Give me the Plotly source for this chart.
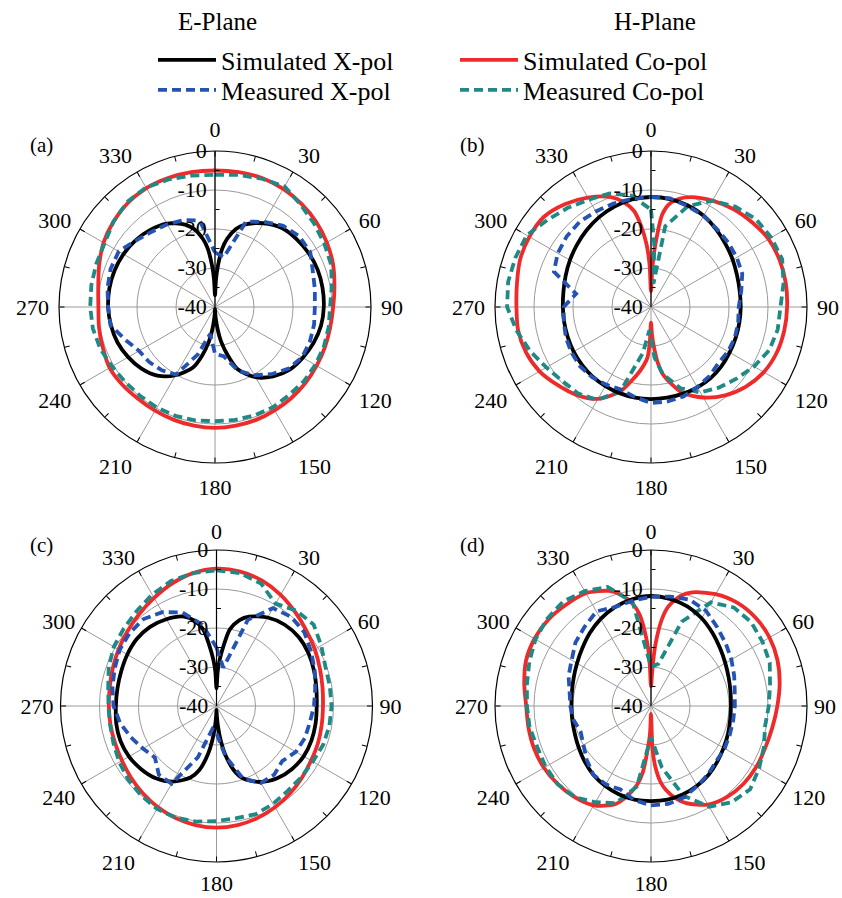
import plotly.graph_objects as go

# ---------------- data (dB vs angle in degrees) ----------------
SIM_T = [0, 2, 4, 7, 10, 15, 20, 30, 40, 50, 60, 70, 80, 90, 100, 110, 120, 130, 140, 150,
         160, 165, 170, 173, 176, 178, 180, 182, 184, 187, 190, 195, 200,
         210, 220, 230, 240, 250, 260, 270, 280, 290, 300, 310, 320, 330, 340,
         345, 350, 353, 356, 358, 360]
T10 = [0, 10, 20, 30, 40, 50, 60, 70, 80, 90, 100, 110, 120, 130, 140, 150, 160, 170, 180,
       190, 200, 210, 220, 230, 240, 250, 260, 270, 280, 290, 300, 310, 320, 330, 340, 350, 360]
B_MEAS_CO_T = [0, 3, 6, 10, 20, 30, 40, 50, 60, 70, 80, 90, 100, 110, 120, 130, 140, 150, 160, 170,
               176, 184, 190, 200, 210, 220, 230, 240, 250, 260, 270, 280, 290, 300, 310, 320, 330,
               340, 350, 360]

# (a) E-plane
A_SIM_X = [-37, -33, -29.5, -25, -22.3, -19.3, -17.5, -15.2, -13.5, -12.8, -12.3, -12.0, -12.0, -12.1,
           -12.4, -13.1, -14.0, -15.0, -16.8, -19.2, -23, -27, -31, -34, -37, -38.5, -39.5,
           -38.5, -37, -34, -31, -27, -23.5, -19.8, -17.0, -15.4, -14.3, -13.4, -12.9, -12.6,
           -12.5, -12.6, -12.9, -13.4, -14.2, -15.3, -17.5, -19.3, -22.3, -25, -29.5, -33, -37]
A_SIM_CO = [-5.0, -4.9, -4.8, -5.0, -5.5, -6.1, -6.9, -7.8, -8.9, -9.7, -10.0, -10.0, -9.9, -9.7,
            -9.5, -9.4, -9.2, -9.1, -9.0, -9.1, -9.2, -9.3, -9.3, -9.0, -8.8, -9.4, -9.8, -10.1,
            -9.6, -8.4, -7.0, -6.0, -5.2, -4.8, -4.8, -4.9, -5.0]
A_MEAS_X = [-26, -27, -16.7, -14.8, -12.8, -11.8, -11.8, -13.3, -14.0, -14.4, -14.2, -14.1, -14.2,
            -15.4, -17.5, -19.8, -22.6, -27.2, -28, -33, -27, -20, -18.8, -18.0, -17.5, -15.5,
            -12.8, -12.6, -12.0, -11.5, -11.5, -13.5, -14.8, -15.5, -16.3, -17.5, -26]
A_MEAS_CO = [-6.1, -5.6, -5.0, -4.3, -5.8, -6.8, -7.6, -8.3, -9.6, -10.5, -10.4, -10.3, -10.3, -10.3,
             -10.5, -10.3, -10.4, -10.6, -10.7, -10.5, -10.3, -10.2, -10.2, -10.0, -9.5, -8.7,
             -8.2, -8.0, -7.8, -7.6, -7.3, -6.0, -4.9, -4.6, -5.2, -5.8, -6.1]

# (b) H-plane
B_SIM_X = [-11.8, -11.9, -12.3, -13.0, -14.0, -15.0, -15.8, -16.5, -16.9, -17.0, -17.0, -16.9, -16.7,
           -16.4, -16.2, -16.2, -16.3, -16.4, -16.4, -16.4, -16.5, -16.6, -16.7, -16.9, -17.1,
           -17.3, -17.4, -17.4, -17.2, -16.7, -16.0, -15.2, -14.3, -13.4, -12.6, -12.0, -11.8]
B_SIM_CO = [-36, -30, -24, -16, -13.2, -11.2, -10.0, -8.5, -7.2, -6.2, -5.2, -4.9, -4.9, -5.1, -5.3,
            -5.7, -6.6, -8.2, -10.4, -13.2, -16.6, -19.5, -22.5, -25.5, -30, -33, -36,
            -31, -27, -25, -23.2, -20.3, -17, -12.8, -10.5, -8.8, -7.0, -5.9, -5.4, -5.5, -5.1,
            -4.3, -4.0, -4.1, -5.6, -7.6, -10.0, -12.0, -15.0, -19, -24, -29, -36]
B_MEAS_X = [-11.8, -11.7, -12.5, -13.0, -13.8, -14.2, -14.6, -15.1, -16.5, -17.5, -17.3, -17.1, -17.2,
            -17.5, -16.8, -16.3, -15.6, -15.4, -15.4, -16.5, -17.5, -17.0, -16.5, -16.3, -16.5,
            -16.8, -17.3, -17.6, -20.5, -13.5, -12.4, -11.8, -11.5, -11.7, -11.8, -11.8, -11.8]
B_MEAS_CO = [-15, -24, -34, -19, -12.5, -8.5, -6.4, -4.9, -4.4, -4.2, -5.5, -6.8, -7.0, -7.7, -9.5,
             -11.4, -13.0, -14.7, -17.8, -22.5, -27, -34, -28, -17, -12.5, -11.0, -10.4, -9.0,
             -7.0, -5.0, -3.1, -2.8, -3.0, -3.2, -5.3, -6.8, -8.2, -9.0, -11.0, -15]

# (c) E-plane
C_SIM_X = [-35.5, -31, -28, -24, -20, -17.2, -15.6, -13.8, -12.8, -12.5, -12.8, -13.4, -14.0, -14.3,
           -14.2, -14.1, -14.2, -14.8, -15.8, -17.5, -20.3, -23, -27.5, -31, -35, -37.5, -39,
           -37.5, -35, -31, -27.5, -23, -20.5, -17.6, -15.8, -14.8, -14.1, -13.8, -13.9, -14.2,
           -14.2, -14.0, -13.6, -13.3, -13.5, -14.3, -15.6, -17.2, -20, -24, -28, -31, -35.5]
C_SIM_CO = [-4.8, -5.0, -5.8, -7.1, -8.6, -9.9, -10.9, -11.8, -12.4, -12.7, -12.6, -12.3, -12.0,
            -11.4, -10.7, -10.0, -9.4, -9.0, -8.8, -9.0, -9.4, -10.0, -10.7, -11.4, -12.0, -12.3,
            -12.4, -12.4, -12.2, -11.7, -11.0, -10.2, -9.2, -8.0, -6.6, -5.4, -4.8]
C_MEAS_X = [-25, -30, -16.5, -11.0, -10.2, -10.6, -12.0, -13.2, -14.3, -15.0, -15.7, -15.9, -16.5,
            -18.0, -17.0, -17.2, -20.2, -27, -33, -34, -26, -17.0, -17.0, -19.4, -18.2, -16.6,
            -14.9, -13.6, -12.9, -12.2, -11.3, -10.9, -10.9, -12.2, -14.5, -18.8, -25]
C_MEAS_CO = [-5.2, -5.4, -6.6, -9.7, -8.1, -7.5, -9.0, -10.3, -10.5, -10.5, -10.6, -10.9, -11.5,
             -11.6, -11.6, -11.0, -10.5, -10.8, -10.5, -9.9, -9.5, -9.5, -10.0, -10.5, -11.2,
             -11.9, -12.3, -12.3, -11.8, -10.6, -9.6, -9.0, -8.2, -7.0, -5.9, -5.4, -5.2]

# (d) H-plane
D_SIM_X = [-11.8, -12.1, -12.8, -14.0, -15.5, -16.9, -18.0, -18.8, -19.3, -19.5, -19.4, -19.0, -18.5,
           -17.8, -17.0, -16.4, -15.9, -15.6, -15.6, -15.6, -15.9, -16.4, -17.0, -17.8, -18.6,
           -19.2, -19.5, -19.6, -19.4, -18.9, -18.1, -17.0, -15.6, -14.2, -13.0, -12.2, -11.8]
D_SIM_CO = [-35, -31, -24.5, -17.8, -14, -10.8, -9.0, -6.9, -5.5, -4.9, -4.9, -5.5, -6.5, -7.6, -8.4,
            -8.8, -8.8, -9.0, -9.6, -10.8, -13.5, -15.5, -18.2, -20.5, -24.5, -29, -38,
            -33, -29.5, -23, -19.5, -16, -13.2, -10.6, -9.5, -8.8, -8.3, -8.1, -8.1, -8.0, -7.0,
            -5.9, -5.5, -5.6, -6.1, -6.6, -8.6, -10.5, -13.5, -16.5, -22.5, -27.5, -35]
D_MEAS_X = [-12.0, -11.5, -11.0, -11.8, -13.6, -15.0, -16.2, -17.3, -18.2, -18.5, -18.6, -18.5, -18.2,
            -18.1, -17.2, -16.3, -15.1, -14.5, -14.5, -15.5, -17.2, -16.8, -17.0, -18.5, -20.0,
            -20.8, -19.8, -19.3, -18.8, -17.5, -16.5, -14.7, -13.5, -12.0, -13.0, -12.6, -12.0]
D_MEAS_CO = [-30, -29, -17, -9.3, -7.0, -6.5, -7.0, -7.6, -9.0, -9.8, -10.3, -9.2, -8.0, -6.8, -7.8,
             -10.2, -15.5, -24, -32, -19, -13.5, -11.5, -9.5, -8.8, -8.8, -9.0, -8.4, -8.2, -7.7,
             -6.8, -5.8, -5.2, -5.0, -6.0, -7.5, -13, -30]

R_TICKS = [-40, -30, -20, -10, 0]
R_TICK_TEXT = ["-40", "-30", "-20", "-10", "0"]
R_MINOR = [-35, -25, -15, -5]
ANG_TICKS = [0, 30, 60, 90, 120, 150, 180, 210, 240, 270, 300, 330]
MINOR_TICKS = list(range(0, 360, 15))
PANEL_LABELS = ["(a)", "(b)", "(c)", "(d)"]
NAMES = ["Simulated X-pol", "Measured X-pol", "Simulated Co-pol", "Measured Co-pol"]

# ---------------- style ----------------
FONT = "Liberation Serif"
RED = "#ee2a2a"
BLUE = "#2453b3"
TEAL = "#1f8a85"
BLACK = "#000000"
LW = 3.8
DASH = "9px,5px"

W, H = 842, 898
px = lambda v: v / W
py = lambda v: 1 - v / H

DOMAINS = [
    dict(x=[px(59), px(371)], y=[py(463), py(151)]),
    dict(x=[px(495), px(807)], y=[py(463), py(151)]),
    dict(x=[px(60.5), px(372.5)], y=[py(862), py(550)]),
    dict(x=[px(495), px(807)], y=[py(862), py(550)]),
]
LABEL_PAD = [5, 5, 2, 2]   # extra gap between circle and angle labels per panel

panels = [
    (SIM_T, A_SIM_X, T10, A_MEAS_X, T10, A_SIM_CO, T10, A_MEAS_CO),
    (T10, B_SIM_X, T10, B_MEAS_X, SIM_T, B_SIM_CO, B_MEAS_CO_T, B_MEAS_CO),
    (SIM_T, C_SIM_X, T10, C_MEAS_X, T10, C_SIM_CO, T10, C_MEAS_CO),
    (T10, D_SIM_X, T10, D_MEAS_X, SIM_T, D_SIM_CO, T10, D_MEAS_CO),
]

fig = go.Figure()
for i, (t1, r1, t2, r2, t3, r3, t4, r4) in enumerate(panels):
    sp = "polar" if i == 0 else f"polar{i + 1}"
    specs = [
        (t3, r3, RED, "solid", NAMES[2], "legend3"),
        (t4, r4, TEAL, DASH, NAMES[3], "legend4"),
        (t1, r1, BLACK, "solid", NAMES[0], "legend"),
        (t2, r2, BLUE, DASH, NAMES[1], "legend2"),
    ]
    for th, rr, col, dash, name, lg in specs:
        smooth = dash == "solid"
        fig.add_trace(go.Scatterpolar(
            theta=th, r=rr, mode="lines", name=name, subplot=sp,
            line=dict(color=col, width=LW, dash=dash,
                      shape="spline" if smooth else "linear", smoothing=0.8 if smooth else None),
            showlegend=(i == 0), legend=lg, hoverinfo="skip",
        ))
    # overlay subplot carrying the small (minor) ticks
    fig.add_trace(go.Scatterpolar(theta=[0], r=[-40], mode="markers", subplot=f"polar{i + 5}",
                                  marker=dict(size=0.1, opacity=0), showlegend=False, hoverinfo="skip"))

tickfont = dict(family=FONT, size=22, color="black")
GRID = "#9a9a9a"
for i, dom in enumerate(DOMAINS):
    key = "polar" if i == 0 else f"polar{i + 1}"
    fig.layout[key] = dict(
        domain=dom, bgcolor="rgba(0,0,0,0)",
        radialaxis=dict(range=[-40, 0], tickvals=R_TICKS, ticktext=R_TICK_TEXT, angle=90,
                        tickangle=90, side="counterclockwise",
                        showline=True, linecolor="black", linewidth=1.2, ticks="",
                        gridcolor=GRID, gridwidth=0.8, tickfont=tickfont),
        angularaxis=dict(rotation=90, direction="clockwise", tickvals=ANG_TICKS,
                         ticktext=[str(v) for v in ANG_TICKS],
                         ticks="outside", ticklen=LABEL_PAD[i], tickcolor="rgba(0,0,0,0)",
                         showgrid=True, gridcolor=GRID, gridwidth=0.8,
                         showline=True, linecolor="black", linewidth=1.2, tickfont=tickfont),
    )
    fig.layout[f"polar{i + 5}"] = dict(
        domain=dom, bgcolor="rgba(0,0,0,0)",
        radialaxis=dict(range=[-40, 0], tickvals=R_MINOR, angle=90, side="clockwise",
                        showticklabels=False, showline=False, showgrid=False,
                        ticks="outside", ticklen=4, tickwidth=1, tickcolor="black"),
        angularaxis=dict(rotation=90, direction="clockwise", tickvals=MINOR_TICKS,
                         ticks="inside", ticklen=5, tickwidth=1, tickcolor="black",
                         showticklabels=False, showgrid=False, showline=False),
    )

annotations = [
    dict(text="E-Plane", x=px(218), y=py(21), font=dict(family=FONT, size=25, color="black")),
    dict(text="H-Plane", x=px(655), y=py(21), font=dict(family=FONT, size=25, color="black")),
]
label_pos = [(41, 145), (472, 145), (41, 545), (472, 545)]
for lab, (lx, ly) in zip(PANEL_LABELS, label_pos):
    annotations.append(dict(text=lab, x=px(lx), y=py(ly),
                            font=dict(family=FONT, size=21, color="black")))
for a in annotations:
    a.update(xref="paper", yref="paper", showarrow=False, xanchor="center", yanchor="middle")

legfont = dict(family=FONT, size=26, color="black")
def leg(x, y):
    return dict(x=px(x), y=py(y), xanchor="left", yanchor="middle", font=legfont,
                bgcolor="rgba(0,0,0,0)", itemwidth=58, borderwidth=0)

fig.update_layout(
    width=W, height=H, margin=dict(l=0, r=0, t=0, b=0),
    paper_bgcolor="white", plot_bgcolor="white",
    annotations=annotations,
    legend=leg(153, 60), legend2=leg(153, 90),
    legend3=leg(455, 60), legend4=leg(455, 90),
)

# remove the browser's default 8 px body margin so the 842x898 figure fills the window exactly
fig.write_html("out.html", config={"displayModeBar": False},
               post_script="document.body.style.margin='0';document.body.style.overflow='hidden';")
